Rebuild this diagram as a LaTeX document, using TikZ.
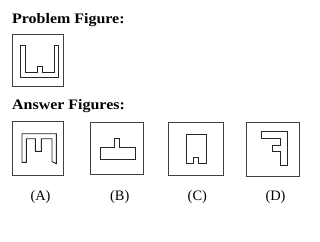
\documentclass[tikz,border=0pt]{standalone}
\usepackage{fontspec}
\setmainfont{Liberation Serif}
\begin{document}
\begin{tikzpicture}[x=1pt,y=-1pt,
  frame/.style={draw=black!75,line width=0.9pt},
  figline/.style={draw=black!85,line width=0.9pt,line join=miter},
  title/.style={anchor=base west,inner sep=0pt,font=\fontsize{14.5}{16}\selectfont\bfseries},
  lab/.style={anchor=base,inner sep=0pt,font=\fontsize{14.4}{16}\selectfont}]
\useasboundingbox[fill=white] (0,0) rectangle (320,241);
\node[title] (t1) at (12,23) {\scalebox{1.1}[1]{Problem Figure:}};
\node[title] (t2) at (12,109.7) {\scalebox{1.1}[1]{Answer Figures:}};
% problem figure
\draw[frame] (12.3,34) rectangle (63,86);
\draw[figline] (20.7,45) -- (20.7,77.7) -- (58.7,77.7) -- (58.7,45) -- (54,45) -- (54,72.3) -- (42.7,72.3) -- (42.7,66) -- (37,66) -- (37,72.3) -- (25.3,72.3) -- (25.3,45) -- cycle;
% A
\draw[frame] (12.3,121.3) rectangle (63,175.3);
\draw[figline] (22,133.7) -- (56.3,133.7) -- (56.3,163.7) -- (52,161.5) -- (52,138.7) -- (41.3,138.7) -- (41.3,151.3) -- (35.3,151.3) -- (35.3,138.7) -- (26.3,138.7) -- (26.3,162.3) -- (22,162.3) -- cycle;
% B
\draw[frame] (90.7,122) rectangle (143.3,174.7);
\draw[figline] (100,147.3) -- (114.3,147.3) -- (114.3,138.7) -- (119.3,138.7) -- (119.3,147.3) -- (135.3,147.3) -- (135.3,159.7) -- (100,159.7) -- cycle;
% C
\draw[frame] (168.7,122.7) rectangle (223.3,175.3);
\draw[figline] (186.7,134) -- (206.7,134) -- (206.7,163) -- (198,163) -- (198,157.3) -- (193.3,157.3) -- (193.3,163) -- (186.7,163) -- cycle;
% D
\draw[frame] (246.7,122) rectangle (299.3,176.3);
\draw[figline] (261.7,131.7) -- (287.3,131.7) -- (287.3,165.3) -- (280.5,165.3) -- (280.5,151.7) -- (272.5,151.7) -- (272.5,145.7) -- (280.5,145.7) -- (280.5,138.5) -- (261.7,138.5) -- cycle;
% labels
\node[lab] (la) at (40.5,200.5) {(A)};
\node[lab] (lb) at (119.7,200.5) {(B)};
\node[lab] (lc) at (197.3,200.5) {(C)};
\node[lab] (ld) at (275.5,200.5) {(D)};
\end{tikzpicture}
\end{document}
